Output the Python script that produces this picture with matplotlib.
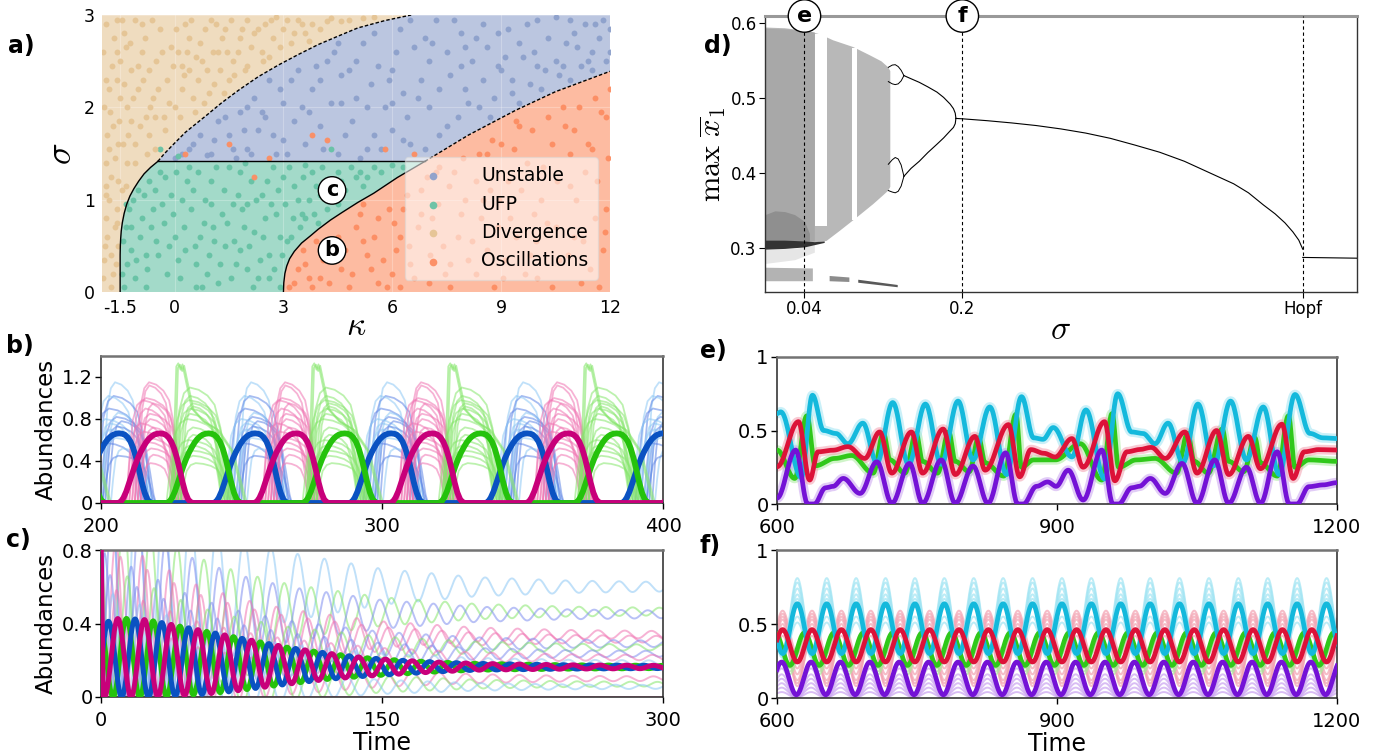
import numpy as np
import matplotlib
matplotlib.use("Agg")
import matplotlib.pyplot as plt
from matplotlib.colors import to_rgb
from matplotlib.transforms import blended_transform_factory

plt.rcParams["font.family"] = ["DejaVu Sans"]
plt.rcParams["mathtext.fontset"] = "cm"

# ---------------------------------------------------------------- panel a data
kappa_ticks = [-1.5, 0, 3, 6, 9, 12]
kappa_ticklabels = ["-1.5", "0", "3", "6", "9", "12"]
sigma_ticks = [0, 1, 2, 3]

left_kappa = [-1.5, -1.5, -1.495, -1.485, -1.47, -1.44, -1.39, -1.32, -1.23, -1.12, -0.99, -0.84, -0.66, -0.46]
left_sigma = [0.0, 0.40, 0.50, 0.58, 0.66, 0.75, 0.85, 0.95, 1.04, 1.12, 1.20, 1.28, 1.35, 1.415]
upper_kappa = [-0.46, -0.30, -0.08, 0.30, 0.90, 1.30, 1.78, 2.30, 2.87, 3.40, 3.96, 4.50, 5.05, 5.80, 6.52]
upper_sigma = [1.415, 1.49, 1.58, 1.73, 1.92, 2.05, 2.19, 2.33, 2.46, 2.57, 2.68, 2.77, 2.86, 2.94, 3.0]
osc_kappa = [3.0, 3.01, 3.04, 3.09, 3.17, 3.30, 3.50, 3.75, 3.96, 4.30, 4.61, 5.05, 5.49, 6.14, 6.90, 8.10, 9.41, 10.5, 12.0]
osc_sigma = [0.0, 0.10, 0.20, 0.28, 0.36, 0.44, 0.53, 0.61, 0.68, 0.78, 0.86, 0.97, 1.07, 1.24, 1.415, 1.70, 1.97, 2.17, 2.39]
ufp_sigma_top = 1.415

div_pts = [(-1.9, 2.9), (-1.6, 2.6), (-1.8, 2.2), (-1.7, 1.8), (-1.9, 1.4), (-1.8, 1.0), (-1.85, 0.6),
           (-1.7, 0.2), (-1.95, 0.35), (-1.6, 0.9), (-1.75, 1.25), (-1.55, 1.6), (-1.3, 2.0), (-1.2, 2.4),
           (-1.4, 2.8), (-1.1, 2.95), (-0.9, 2.6), (-1.0, 2.2), (-0.8, 1.9), (-1.1, 1.6), (-0.6, 2.1),
           (-0.5, 2.5), (-0.4, 2.85), (-0.2, 2.3), (0.0, 2.0), (0.1, 2.6), (0.3, 2.9), (0.4, 2.4),
           (0.5, 2.1), (0.7, 2.7), (0.9, 2.4), (1.0, 2.95), (1.2, 2.6), (1.4, 2.85), (1.6, 2.5),
           (1.8, 2.75), (2.0, 2.95), (2.2, 2.8), (2.5, 2.9), (2.8, 2.98), (3.0, 2.85), (3.4, 2.95),
           (3.8, 2.9), (4.3, 2.97), (4.6, 2.93), (-0.7, 1.7), (-0.3, 1.9), (0.2, 2.2), (-1.5, 2.1),
           (-1.65, 1.45), (-1.9, 0.8), (-1.75, 0.05), (-1.55, 0.5), (-1.45, 1.1), (-1.3, 1.4),
           (-0.9, 2.9), (0.6, 2.55), (1.1, 2.25), (1.5, 2.3), (2.4, 2.6), (2.6, 2.55), (3.2, 2.7),
           (-1.95, 2.0), (-1.6, 2.95), (-0.1, 2.65), (0.8, 2.05), (2.0, 2.45), (3.6, 2.8),
           (-1.85, 1.7), (-1.2, 1.85), (-1.65, 0.7), (-1.9, 1.15), (-1.6, 2.3), (-0.7, 2.4),
           (0.2, 2.45), (1.3, 2.75), (2.7, 2.75), (-1.35, 2.65), (-0.55, 1.55), (0.4, 2.75),
           (-1.98, 0.15), (-1.92, 0.5), (-1.88, 1.05), (-1.82, 1.55), (-1.78, 1.95), (-1.72, 2.45),
           (-1.68, 2.75), (-1.62, 0.3), (-1.58, 0.75), (-1.56, 1.2), (-1.52, 1.85), (-1.5, 2.5),
           (-1.45, 2.95), (-1.42, 1.6), (-1.38, 2.25), (-1.33, 1.15), (-1.27, 1.7), (-1.22, 2.7),
           (-1.15, 2.1), (-1.08, 1.4), (-1.02, 2.45), (-0.95, 1.8), (-0.88, 2.3), (-0.82, 2.75),
           (-0.75, 1.5), (-0.68, 2.0), (-0.62, 2.95), (-0.55, 1.9), (-0.45, 2.2), (-0.35, 2.6),
           (-0.25, 1.75), (-0.15, 2.05), (-0.05, 2.45), (0.05, 2.85), (0.15, 1.9), (0.25, 2.35),
           (0.35, 2.6), (0.45, 2.95), (0.55, 1.95), (0.65, 2.3), (0.75, 2.5), (0.85, 2.85),
           (0.95, 2.15), (1.05, 2.6), (1.15, 2.9), (1.25, 2.4), (1.35, 2.15), (1.45, 2.6),
           (1.55, 2.95), (1.65, 2.35), (1.75, 2.6), (1.85, 2.85), (1.95, 2.4), (2.1, 2.65),
           (2.3, 2.85), (2.45, 2.5), (2.65, 2.95), (2.9, 2.65), (3.1, 2.95), (3.3, 2.8), (3.5, 2.9),
           (3.7, 2.72), (4.0, 2.85), (4.2, 2.93), (4.8, 2.95), (5.2, 2.97), (5.5, 2.98),
           (-1.97, 2.6), (-1.9, 2.3), (-1.76, 0.4)]
uns_pts = [(0.5, 1.6), (1.0, 1.5), (1.5, 1.7), (2.0, 1.55), (2.5, 1.9), (3.0, 1.65), (3.5, 2.0),
           (4.0, 1.8), (4.5, 1.5), (5.0, 2.1), (5.5, 1.7), (6.0, 2.4), (6.5, 1.6), (7.0, 2.0),
           (7.5, 2.6), (8.0, 2.2), (8.5, 2.9), (9.0, 2.4), (9.5, 2.7), (10.0, 2.95), (10.5, 2.5),
           (11.0, 2.8), (11.5, 2.6), (11.8, 2.95), (1.2, 1.85), (2.2, 2.1), (3.2, 2.3), (4.2, 2.5),
           (5.2, 2.7), (6.2, 2.85), (7.2, 2.95), (3.8, 2.2), (4.8, 2.4), (5.8, 2.0), (6.8, 2.3),
           (7.8, 1.9), (8.8, 2.1), (2.8, 1.5), (3.6, 1.6), (5.3, 1.55), (6.0, 1.75), (7.3, 1.7),
           (8.2, 2.5), (9.2, 2.85), (10.2, 2.4), (11.2, 2.45), (11.6, 2.9), (10.8, 2.7), (9.8, 2.25),
           (8.6, 2.65), (7.6, 2.35), (6.6, 2.65), (5.6, 2.45), (4.6, 2.05), (3.3, 1.85), (1.8, 1.95),
           (0.2, 1.5), (4.4, 2.6), (6.9, 2.75), (7.9, 2.8), (9.6, 2.55), (10.6, 2.35), (11.4, 2.5),
           (12.0, 2.6), (2.6, 2.3), (1.6, 1.55), (4.9, 1.85), (8.4, 2.0), (9.3, 2.15), (10.9, 2.95),
           (6.3, 2.15), (7.0, 2.5), (5.4, 2.25), (3.9, 2.45), (2.3, 1.75), (6.4, 1.9), (8.9, 2.45),
           (0.0, 1.45), (0.4, 1.55), (0.7, 1.7), (0.9, 1.48), (1.1, 1.65), (1.4, 1.9), (1.7, 1.45),
           (1.9, 1.75), (2.1, 1.5), (2.4, 1.95), (2.7, 1.7), (2.9, 2.2), (3.1, 1.5), (3.4, 2.4),
           (3.7, 1.95), (4.0, 2.3), (4.1, 1.55), (4.3, 2.05), (4.5, 2.7), (4.7, 1.7), (5.0, 2.5),
           (5.1, 1.45), (5.3, 2.0), (5.5, 2.8), (5.7, 1.55), (5.9, 2.3), (6.1, 2.6), (6.3, 1.65),
           (6.5, 2.95), (6.7, 2.1), (6.9, 1.55), (7.1, 2.7), (7.3, 2.2), (7.5, 1.8), (7.7, 2.95),
           (7.9, 2.45), (8.1, 2.05), (8.3, 2.75), (8.5, 2.3), (8.7, 1.9), (8.9, 2.8), (9.1, 2.55),
           (9.3, 2.3), (9.5, 2.05), (9.7, 2.9), (9.9, 2.6), (10.1, 2.2), (10.3, 2.75), (10.5, 2.98),
           (10.7, 2.45), (10.9, 2.3), (11.1, 2.65), (11.3, 2.9), (11.5, 2.4), (11.7, 2.75),
           (11.9, 2.5), (12.0, 2.85), (3.0, 2.05), (2.0, 2.0), (4.6, 2.35), (6.0, 2.05), (8.0, 2.65),
           (10.0, 2.45)]
ufp_pts = [(-1.3, 0.3), (-1.2, 0.7), (-1.0, 1.1), (-0.8, 0.4), (-0.6, 0.9), (-0.4, 1.3), (-0.2, 0.2),
           (0.0, 0.6), (0.2, 1.0), (0.4, 1.35), (0.6, 0.3), (0.8, 0.75), (1.0, 1.2), (1.2, 0.1),
           (1.4, 0.5), (1.6, 0.95), (1.8, 1.3), (2.0, 0.25), (2.2, 0.65), (2.4, 1.05), (2.6, 0.4),
           (2.8, 0.85), (3.0, 1.25), (3.2, 0.6), (3.4, 1.0), (3.6, 0.8), (3.8, 1.3), (4.0, 1.05),
           (4.5, 1.3), (5.0, 1.25), (5.5, 1.35), (-1.4, 0.05), (-1.1, 0.15), (-0.9, 0.8), (-0.5, 0.55),
           (-0.1, 1.05), (0.3, 0.45), (0.5, 1.1), (0.9, 0.2), (1.1, 0.55), (1.3, 0.85), (1.5, 1.35),
           (1.7, 0.3), (1.9, 0.7), (2.1, 1.2), (2.3, 0.15), (2.5, 0.8), (2.7, 1.35), (2.9, 0.05),
           (3.1, 0.55), (3.3, 1.15), (3.5, 0.85), (3.9, 1.15), (4.2, 0.9), (4.7, 1.1), (6.0, 1.38),
           (-0.7, 1.2), (-1.2, 0.45), (0.1, 0.35), (0.7, 0.6), (2.0, 0.95), (2.6, 0.15), (-0.3, 0.75),
           (1.0, 0.95), (3.6, 1.38), (-0.4, 1.55), (0.1, 1.47), (4.3, 1.55), (-1.35, 0.95), (0.6, 0.05),
           (1.8, 0.45), (2.9, 0.6), (5.2, 1.15), (-0.8, 0.05),
           (-1.45, 0.2), (-1.42, 0.55), (-1.35, 0.7), (-1.25, 0.9), (-1.15, 1.0), (-1.05, 0.35),
           (-0.95, 0.6), (-0.85, 1.05), (-0.75, 0.25), (-0.65, 0.7), (-0.55, 1.1), (-0.45, 0.4),
           (-0.35, 0.95), (-0.25, 1.25), (-0.15, 0.5), (-0.05, 0.85), (0.05, 1.3), (0.15, 0.15),
           (0.25, 0.7), (0.35, 1.2), (0.45, 0.9), (0.55, 0.5), (0.65, 1.3), (0.75, 0.05), (0.85, 1.0),
           (0.95, 0.4), (1.05, 0.7), (1.15, 1.35), (1.25, 0.3), (1.35, 1.1), (1.45, 0.75), (1.55, 0.15),
           (1.65, 0.55), (1.75, 1.05), (1.85, 0.9), (1.95, 1.4), (2.05, 0.5), (2.15, 0.05), (2.25, 1.0),
           (2.35, 0.35), (2.45, 0.6), (2.55, 1.2), (2.65, 0.95), (2.75, 0.25), (2.85, 1.1), (2.95, 0.4),
           (3.05, 0.95), (3.15, 1.35), (3.25, 0.8), (3.45, 0.7), (3.55, 1.25), (3.7, 1.0), (3.85, 0.85),
           (4.05, 1.35), (4.15, 1.2), (4.35, 1.0), (4.6, 1.2), (4.85, 1.35), (5.1, 1.3), (5.3, 1.25),
           (5.7, 1.3), (6.3, 1.35), (3.95, 0.75), (4.5, 0.95)]
osc_pts = [(3.3, 0.1), (3.6, 0.3), (4.0, 0.15), (4.3, 0.5), (4.6, 0.25), (5.0, 0.7), (5.3, 0.4),
           (5.6, 0.1), (5.9, 0.9), (6.2, 0.6), (6.5, 0.3), (6.8, 1.1), (7.1, 0.8), (7.4, 0.5),
           (7.7, 1.3), (8.0, 1.0), (8.3, 0.2), (8.6, 1.5), (8.9, 0.7), (9.2, 1.2), (9.5, 1.8),
           (9.8, 0.4), (10.1, 1.0), (10.4, 1.6), (10.7, 2.0), (11.0, 0.6), (11.3, 1.3), (11.6, 2.1),
           (11.9, 0.9), (4.8, 0.05), (5.2, 0.95), (6.0, 0.2), (6.4, 1.05), (7.0, 0.1), (7.6, 0.3),
           (8.2, 0.55), (8.8, 0.05), (9.4, 0.6), (10.0, 0.15), (10.6, 0.35), (11.2, 0.1), (11.8, 0.45),
           (7.3, 1.35), (8.4, 1.5), (9.0, 1.6), (9.7, 1.4), (10.3, 1.9), (11.0, 1.75), (11.5, 1.55),
           (12.0, 2.2), (6.7, 0.7), (7.9, 0.85), (8.7, 1.1), (9.9, 0.85), (10.9, 1.15), (11.6, 0.8),
           (3.8, 0.05), (4.4, 0.35), (5.5, 0.6), (6.1, 0.45), (11.9, 1.9), (10.5, 0.7), (9.1, 0.35),
           (7.2, 1.3), (3.8, 1.7), (2.6, 1.45), (5.8, 1.55), (1.5, 1.6), (4.2, 1.65), (0.3, 1.5),
           (2.2, 1.25), (6.6, 1.5),
           (3.15, 0.05), (3.4, 0.25), (3.55, 0.45), (3.7, 0.15), (3.9, 0.55), (4.1, 0.35), (4.25, 0.1),
           (4.5, 0.6), (4.7, 0.45), (4.9, 0.2), (5.1, 0.85), (5.2, 0.55), (5.4, 0.25), (5.6, 0.8),
           (5.75, 0.35), (5.85, 0.05), (6.05, 0.75), (6.3, 0.9), (6.45, 0.5), (6.6, 0.15), (6.8, 0.85),
           (6.95, 1.25), (7.05, 0.4), (7.25, 0.95), (7.45, 0.2), (7.55, 1.15), (7.8, 0.6), (7.95, 1.45),
           (8.1, 0.35), (8.3, 1.2), (8.45, 0.8), (8.6, 0.45), (8.75, 1.65), (8.95, 1.0), (9.05, 0.15),
           (9.25, 0.8), (9.35, 1.55), (9.55, 1.1), (9.65, 0.2), (9.85, 1.75), (9.95, 0.55), (10.15, 1.35),
           (10.25, 0.75), (10.4, 0.05), (10.55, 1.2), (10.75, 1.8), (10.85, 0.4), (11.05, 1.0),
           (11.15, 2.0), (11.25, 0.55), (11.4, 1.6), (11.45, 0.25), (11.65, 1.2), (11.75, 1.95),
           (11.85, 0.65), (11.95, 1.45), (11.7, 0.05), (10.9, 1.5), (9.4, 1.85), (8.5, 1.0),
           (7.6, 0.05), (6.2, 0.05)]

# ---------------------------------------------------------------- panel d data
d_xticks = [0.04, 0.2, 0.545]
d_xticklabels = ["0.04", "0.2", "Hopf"]
d_yticks = [0.3, 0.4, 0.5, 0.6]
p1_sigma = [0.1935, 0.196, 0.2, 0.225, 0.25, 0.275, 0.30, 0.325, 0.35, 0.375, 0.40, 0.425, 0.45,
            0.475, 0.49, 0.505, 0.517, 0.527, 0.535, 0.541, 0.545]
p1_max = [0.473, 0.4728, 0.4725, 0.4700, 0.4670, 0.4635, 0.4590, 0.4535, 0.4465, 0.4375, 0.4280,
          0.4160, 0.4010, 0.3860, 0.3740, 0.3580, 0.3460, 0.3340, 0.3220, 0.3110, 0.2990]
post_hopf_sigma = [0.545, 0.600]
post_hopf_max = [0.288, 0.287]
p2_sigma = [0.1408, 0.148, 0.1564, 0.165, 0.1743, 0.181, 0.1877, 0.191, 0.1928, 0.1935]
p2_upper = [0.530, 0.5258, 0.521, 0.5150, 0.508, 0.501, 0.492, 0.486, 0.480, 0.473]
p2_lower = [0.396, 0.4065, 0.416, 0.4275, 0.4387, 0.447, 0.4565, 0.461, 0.466, 0.473]
p4_sigma = [0.125, 0.129, 0.132, 0.135, 0.138, 0.1408]
p4_up_a = [0.541, 0.544, 0.5445, 0.542, 0.537, 0.530]
p4_up_b = [0.522, 0.519, 0.518, 0.519, 0.523, 0.530]
p4_lo_a = [0.412, 0.418, 0.421, 0.419, 0.411, 0.396]
p4_lo_b = [0.377, 0.375, 0.374, 0.376, 0.383, 0.396]
chaos_hi_sigma = [0.0, 0.02, 0.04, 0.0557, 0.069, 0.0894, 0.1063, 0.1180, 0.1249, 0.127]
chaos_hi = [0.594, 0.593, 0.590, 0.585, 0.577, 0.568, 0.557, 0.549, 0.541, 0.536]
chaos_lo_sigma = [0.0, 0.02, 0.04, 0.0624, 0.076, 0.0928, 0.1097, 0.120, 0.125, 0.127]
chaos_lo = [0.3037, 0.305, 0.306, 0.310, 0.3236, 0.341, 0.359, 0.371, 0.377, 0.382]
windows_sigma = [(0.0506, 0.0625), (0.0878, 0.0935)]
windows_max = [(0.33, 0.586), (0.338, 0.567)]

# ---------------------------------------------------------------- panel b data
b_period = 48.4
b_peak = {"blue": 206.5, "magenta": 221.0, "green": 238.3}
b_thick_rel = [-15, -14, -13, -12, -11, -10, -9, -8, -7, -6, -5, -4, -3, -2, -1, 0,
               1, 2, 3, 4, 5, 6, 7, 8, 9, 10, 11, 12]
b_thick_val = [0.0, 0.01, 0.05, 0.11, 0.19, 0.27, 0.35, 0.42, 0.48, 0.53, 0.575, 0.61, 0.635, 0.652,
               0.66, 0.663, 0.66, 0.65, 0.625, 0.585, 0.52, 0.43, 0.32, 0.20, 0.10, 0.035, 0.005, 0.0]
b_thin_u = [0, 0.06, 0.12, 0.2, 0.3, 0.45, 0.6, 0.72, 0.82, 0.9, 0.96, 1.0]
b_thin_f = [0, 0.45, 0.8, 0.95, 1.0, 0.98, 0.93, 0.85, 0.65, 0.35, 0.1, 0]
b_blue_h = [1.15, 1.02, 1.02, 0.90, 0.86, 0.82, 0.80, 0.78, 0.76, 0.73, 0.70, 0.67, 0.62, 0.57, 0.52, 0.45]
b_blue_on = [-6, -8, -9, -10, -5, -7, -11, -4, -8, -6, -9, -5, -7, -10, -3, -6]
b_blue_off = [9, 12, 8, 11, 10, 13, 9, 12, 7, 11, 10, 8, 12, 9, 11, 13]
b_pink_h = [1.15, 1.12, 1.0, 0.98, 0.95, 0.9, 0.85, 0.8, 0.76, 0.72, 0.68, 0.62, 0.58, 0.52, 0.46, 0.38]
b_pink_on = [-9, -8, -11, -12, -7, -10, -9, -8, -12, -7, -11, -10, -9, -8, -6, -7]
b_pink_off = [8, 6, 9, 7, 8, 6, 9, 7, 5, 8, 6, 9, 7, 8, 6, 5]
b_green_h = [1.10, 1.02, 0.98, 0.95, 0.92, 0.90, 0.85, 0.80, 0.72, 0.65, 0.60, 0.55, 0.50, 0.45, 0.38]
b_green_on = [-13, -12, -14, -11, -10, -13, -12, -15, -11, -10, -14, -12, -13, -11, -10]
b_green_off = [8, 6, 9, 7, 5, 8, 6, 9, 7, 5, 8, 6, 9, 7, 8]
b_spike_rel = [-13.5, -12.3, -11.5, -10.8, -10.0, -9.3, -8.0, -6.0, -2.0, 3.0, 8.0, 11.0, 13.0]
b_spike_val = [0.0, 0.6, 1.30, 1.33, 1.27, 1.32, 1.15, 0.9, 0.78, 0.7, 0.5, 0.2, 0.0]

# ---------------------------------------------------------------- panel c data
c_period = 14.3
c_phase = {"magenta": 8.9, "green": 13.6, "blue": 18.2}
c_env_t = [0, 10, 25, 40, 55, 70, 85, 100, 120, 140, 160, 180, 200, 250, 300]
c_env_hi = [0.40, 0.43, 0.42, 0.39, 0.36, 0.33, 0.30, 0.27, 0.24, 0.215, 0.20, 0.19, 0.183, 0.175, 0.172]
c_env_lo = [0.0, 0.0, 0.0, 0.005, 0.015, 0.03, 0.05, 0.07, 0.095, 0.112, 0.125, 0.137, 0.146, 0.152, 0.155]
c_magenta_start = 0.9
c_decay_t = [0, 25, 50, 75, 100, 150, 200, 250, 300]
c_decay_frac = [1.0, 0.75, 0.5, 0.35, 0.25, 0.13, 0.07, 0.045, 0.035]
c_thin_level = [0.60, 0.465, 0.45, 0.34, 0.315, 0.29, 0.27, 0.235, 0.215, 0.185, 0.10, 0.07, 0.055, 0.0]
c_thin_amp = [0.75, 0.6, 0.6, 0.55, 0.5, 0.5, 0.45, 0.45, 0.4, 0.4, 0.35, 0.35, 0.3, 0.0]
c_thin_group = ["sky", "green", "violet", "pink", "pink", "violet", "green", "violet", "pink",
                "sky", "pink", "green", "sky", "pink"]
c_thin_shift = [1.0, -1.5, 2.0, -1.0, 1.5, -2.0, 0.5, 1.0, -0.5, 2.5, 0.0, -2.5, -1.0, 0.0]

# ---------------------------------------------------------------- panel e data
e_cyan_t = [600, 604, 626, 638, 650, 663, 676, 692, 707, 724, 741, 759, 776, 794, 810, 828, 846,
            862, 875, 885, 896, 916, 931, 951, 965, 980, 992, 1005, 1019, 1035, 1051, 1068, 1086,
            1103, 1121, 1138, 1155, 1171, 1185, 1200]
e_cyan_y = [0.615, 0.627, 0.18, 0.74, 0.50, 0.48, 0.41, 0.55, 0.28, 0.69, 0.27, 0.68, 0.27, 0.70,
            0.30, 0.66, 0.20, 0.73, 0.45, 0.44, 0.52, 0.32, 0.64, 0.17, 0.75, 0.49, 0.48, 0.41,
            0.55, 0.28, 0.68, 0.26, 0.70, 0.30, 0.66, 0.20, 0.745, 0.48, 0.45, 0.445]
e_red_t = [600, 623, 635, 644, 660, 676, 694, 710, 723, 744, 756, 778, 791, 812, 823, 848, 860,
           872, 886, 898, 916, 928, 951, 962, 975, 988, 1001, 1016, 1037, 1050, 1071, 1084, 1105,
           1118, 1141, 1153, 1165, 1180, 1200]
e_red_y = [0.253, 0.56, 0.163, 0.355, 0.366, 0.39, 0.31, 0.49, 0.21, 0.49, 0.21, 0.51, 0.20, 0.46,
           0.23, 0.54, 0.185, 0.37, 0.345, 0.32, 0.445, 0.25, 0.56, 0.158, 0.355, 0.37, 0.385,
           0.31, 0.49, 0.21, 0.50, 0.20, 0.46, 0.24, 0.543, 0.174, 0.355, 0.37, 0.367]
e_green_t = [600, 619, 632, 641, 662, 680, 703, 714, 721, 737, 749, 756, 772, 784, 791, 806, 816,
             823, 843, 856, 862, 875, 898, 925, 948, 959, 966, 985, 1005, 1028, 1040, 1047, 1062,
             1077, 1084, 1100, 1112, 1118, 1136, 1148, 1155, 1170, 1200]
e_green_y = [0.367, 0.174, 0.60, 0.26, 0.31, 0.33, 0.21, 0.48, 0.30, 0.21, 0.48, 0.29, 0.21, 0.49,
             0.29, 0.22, 0.45, 0.28, 0.19, 0.61, 0.25, 0.30, 0.30, 0.41, 0.163, 0.615, 0.25, 0.30,
             0.31, 0.21, 0.48, 0.29, 0.21, 0.51, 0.29, 0.22, 0.45, 0.28, 0.19, 0.60, 0.25, 0.30, 0.29]
e_purple_t = [600, 620, 633, 640, 652, 660, 671, 689, 707, 723, 742, 756, 776, 791, 810, 826, 845,
              858, 864, 878, 890, 899, 912, 928, 948, 960, 966, 980, 988, 1000, 1016, 1034, 1050,
              1069, 1084, 1103, 1118, 1136, 1149, 1157, 1170, 1185, 1200]
e_purple_y = [0.04, 0.367, 0.0, 0.0, 0.11, 0.12, 0.174, 0.072, 0.287, 0.005, 0.276, 0.005, 0.30,
              0.005, 0.258, 0.005, 0.348, 0.0, 0.0, 0.12, 0.15, 0.12, 0.23, 0.027, 0.367, 0.0, 0.0,
              0.11, 0.12, 0.174, 0.072, 0.276, 0.005, 0.30, 0.005, 0.25, 0.005, 0.355, 0.0, 0.0,
              0.118, 0.13, 0.145]

# ---------------------------------------------------------------- panel f data
f_period = 31.5
f_peak = {"cyan": 621.8, "red": 606.0, "green": 598.0, "purple": 605.0}
f_thick_hi = {"cyan": 0.637, "red": 0.462, "green": 0.44, "purple": 0.243}
f_thick_lo = {"cyan": 0.30, "red": 0.243, "green": 0.22, "purple": 0.022}
f_thin_cyan = [(0.81, 0.33), (0.78, 0.33), (0.74, 0.32), (0.70, 0.31), (0.67, 0.30), (0.55, 0.28), (0.51, 0.27)]
f_thin_red = [(0.59, 0.30), (0.57, 0.25), (0.55, 0.20), (0.53, 0.16), (0.50, 0.12), (0.47, 0.08), (0.42, 0.10)]
f_thin_green = [(0.46, 0.20), (0.42, 0.18), (0.40, 0.16)]
f_thin_purple = [(0.20, 0.01), (0.16, 0.01), (0.13, 0.01), (0.10, 0.0), (0.07, 0.0), (0.04, 0.0)]

# ---------------------------------------------------------------- colours
SET2 = {"Unstable": "#8da0cb", "UFP": "#66c2a5", "Divergence": "#e5c494", "Oscillations": "#fc8d62"}
REGION_ALPHA = 0.6
B_THICK = {"blue": "#0a52c2", "magenta": "#c8007a", "green": "#25c20c"}
B_THIN = {"sky": "#8dc8f5", "blue": "#5f86e6", "pink": "#f074b2", "green": "#86e66c", "violet": "#7f8ef0"}
E_COL = {"cyan": "#14b9dc", "red": "#dc1238", "green": "#30c81a", "purple": "#7412d6"}
E_LIGHT = {"cyan": "#9fe4f3", "red": "#f3a0b0", "green": "#a8eb9c", "purple": "#c9a2f0"}


def tint(c, a):
    r = np.array(to_rgb(c))
    return tuple(a * r + (1 - a) * np.ones(3))


W, H = 1381, 756
fig = plt.figure(figsize=(W / 100, H / 100), dpi=100)


def axes_px(l, t, r, b):
    return fig.add_axes([l / W, 1 - b / H, (r - l) / W, (b - t) / H])


def ease_through(tk, yk, n=24):
    tk = np.asarray(tk, float)
    yk = np.asarray(yk, float)
    ts, ys = [], []
    s = np.linspace(0, 1, n, endpoint=False)
    for i in range(len(tk) - 1):
        ts.append(tk[i] + s * (tk[i + 1] - tk[i]))
        ys.append(yk[i] + (yk[i + 1] - yk[i]) * (1 - np.cos(np.pi * s)) / 2)
    ts.append([tk[-1]])
    ys.append([yk[-1]])
    return np.concatenate(ts), np.concatenate(ys)


def style_ts_axes(ax):
    for side in ["left", "bottom", "right"]:
        ax.spines[side].set_color("0.15")
        ax.spines[side].set_linewidth(1.1)
    ax.spines["top"].set_color("0.45")
    ax.spines["top"].set_linewidth(1.8)
    ax.tick_params(labelsize=14, length=4, width=1)
    ax.tick_params(axis="y", pad=2)
    ax.tick_params(axis="x", pad=6)


ax_a = axes_px(102, 15, 610, 292)
ax_d = axes_px(765, 16, 1357, 292)
ax_b = axes_px(101, 356, 663, 503)
ax_c = axes_px(101, 550, 663, 697)
ax_e = axes_px(777, 357, 1337, 504)
ax_f = axes_px(777, 550, 1337, 698)

# ================================================================ panel a
ax = ax_a
ax.set_xlim(-2.0, 12.0)
ax.set_ylim(0, 3)
ax.set_facecolor(tint(SET2["Divergence"], REGION_ALPHA))
ok = np.array(osc_kappa)
os_ = np.array(osc_sigma)
above = ok >= 6.9
blue_k = np.concatenate([upper_kappa, [12, 12], ok[above][::-1]])
blue_s = np.concatenate([upper_sigma, [3, os_[-1]], os_[above][::-1]])
ax.fill(blue_k, blue_s, color=tint(SET2["Unstable"], REGION_ALPHA), lw=0, zorder=0.5)
green_k = np.concatenate([left_kappa, ok[ok <= 6.9][::-1]])
green_s = np.concatenate([left_sigma, os_[ok <= 6.9][::-1]])
ax.fill(green_k, green_s, color=tint(SET2["UFP"], REGION_ALPHA), lw=0, zorder=0.5)
ax.fill(np.concatenate([ok, [12]]), np.concatenate([os_, [0]]),
        color=tint(SET2["Oscillations"], REGION_ALPHA), lw=0, zorder=0.5)
for xv in kappa_ticks:
    ax.axvline(xv, color="white", lw=0.8, alpha=0.25, zorder=0.8)
for yv in sigma_ticks:
    ax.axhline(yv, color="white", lw=0.8, alpha=0.25, zorder=0.8)

ax.plot(left_kappa, left_sigma, color="k", lw=1.0, zorder=3)
ax.plot(upper_kappa, upper_sigma, color="k", lw=1.0, ls=(0, (2.5, 1.5)), zorder=3)
ax.plot([left_kappa[-1], 6.9], [ufp_sigma_top, ufp_sigma_top], color="k", lw=1.0, zorder=3)
ax.plot(ok[ok <= 6.9], os_[ok <= 6.9], color="k", lw=1.0, zorder=3)
ax.plot(ok[ok >= 6.9], os_[ok >= 6.9], color="k", lw=1.0, ls=(0, (2.5, 1.5)), zorder=3)

handles = []
for name, pts in [("Unstable", uns_pts), ("UFP", ufp_pts), ("Divergence", div_pts), ("Oscillations", osc_pts)]:
    arr = np.array(pts)
    h = ax.scatter(arr[:, 0], arr[:, 1], s=18, color=SET2[name], alpha=0.95, lw=0, zorder=2, label=name)
    handles.append(h)
leg = ax.legend(handles=handles, loc="lower right", fontsize=13.5, markerscale=1.3, frameon=True,
                framealpha=0.55, facecolor="white", edgecolor="0.85", handletextpad=1.6,
                borderpad=0.5, labelspacing=0.5, bbox_to_anchor=(0.995, 0.01))
leg.set_zorder(5)
for lab, (kx, sy) in {"c": (4.34, 1.10), "b": (4.34, 0.45)}.items():
    ax.text(kx, sy, lab, ha="center", va="center", fontsize=15, fontweight="bold", zorder=6,
            bbox=dict(boxstyle="circle,pad=0.18", fc="white", ec="k", lw=1.0))
ax.set_xticks(kappa_ticks)
ax.set_xticklabels(kappa_ticklabels)
ax.set_yticks(sigma_ticks)
ax.tick_params(length=0, labelsize=12.5, pad=5)
for sp in ax.spines.values():
    sp.set_visible(False)
ax.set_xlabel(r"$\kappa$", fontsize=24, labelpad=-6)
ax.set_ylabel(r"$\sigma$", fontsize=26, labelpad=4)

# ================================================================ panel d
ax = ax_d
ax.set_xlim(0, 0.6)
ax.set_ylim(0.242, 0.6093)
band_s = np.concatenate([chaos_hi_sigma, chaos_lo_sigma[::-1]])
band_v = np.concatenate([chaos_hi, chaos_lo[::-1]])
ax.fill(band_s, band_v, color="0.72", lw=0, zorder=1)
ax.fill_between([0, 0.02, 0.04, 0.05], [0.31, 0.31, 0.31, 0.31], [0.593, 0.592, 0.590, 0.588],
                color="0.66", lw=0, zorder=1.2)
ax.fill_between([0, 0.01, 0.02, 0.03, 0.04, 0.045], [0.31] * 6, [0.345, 0.35, 0.349, 0.345, 0.336, 0.32],
                color="0.56", lw=0, zorder=1.5)
ax.fill_between([0, 0.02, 0.04, 0.05, 0.06], [0.299, 0.300, 0.302, 0.305, 0.308],
                [0.311, 0.311, 0.310, 0.309, 0.310], color="0.2", lw=0, zorder=2)
ax.fill_between([0, 0.03, 0.05], [0.28, 0.285, 0.295], [0.299, 0.300, 0.305], color="0.9", lw=0, zorder=0.8)
ax.fill_between([0, 0.048], [0.257, 0.257], [0.275, 0.274], color="0.7", lw=0, zorder=1)
ax.fill_between([0.065, 0.085], [0.257, 0.256], [0.264, 0.262], color="0.55", lw=0, zorder=1)
ax.fill_between([0.094, 0.134], [0.255, 0.249], [0.259, 0.252], color="0.35", lw=0, zorder=1)
for (s0, s1), (v0, v1) in zip(windows_sigma, windows_max):
    ax.fill([s0, s1, s1, s0], [v0, v0, v1, v1], color="white", lw=0, zorder=2.5)
ax.plot(p1_sigma, p1_max, color="k", lw=0.8, zorder=3)
ax.plot(post_hopf_sigma, post_hopf_max, color="k", lw=0.8, zorder=3)
ax.plot(p2_sigma, p2_upper, color="k", lw=0.8, zorder=3)
ax.plot(p2_sigma, p2_lower, color="k", lw=0.8, zorder=3)
for arr in (p4_up_a, p4_up_b, p4_lo_a, p4_lo_b):
    ax.plot(p4_sigma, arr, color="k", lw=0.7, zorder=3)
for xv in d_xticks:
    ax.axvline(xv, color="k", lw=0.8, ls=(0, (3, 2.5)), zorder=4)
trans = blended_transform_factory(ax.transData, ax.transAxes)
for lab, xv in [("e", d_xticks[0]), ("f", d_xticks[1])]:
    ax.text(xv, 1.0, lab, transform=trans, ha="center", va="center", fontsize=16, fontweight="bold",
            zorder=6, clip_on=False,
            bbox=dict(boxstyle="circle,pad=0.28", fc="white", ec="k", lw=1.0))
ax.set_xticks(d_xticks)
ax.set_xticklabels(d_xticklabels)
ax.set_yticks(d_yticks)
ax.set_yticklabels(["0.3", "0.4", "0.5", "0.6"])
ax.tick_params(labelsize=12, length=4, pad=2)
for sp in ax.spines.values():
    sp.set_color("0.2")
    sp.set_linewidth(1.0)
ax.spines["top"].set_color("0.6")
ax.spines["top"].set_linewidth(2.2)
ax.set_xlabel(r"$\sigma$", fontsize=24, labelpad=-4)
ax.set_ylabel(r"$\max\ \overline{x}_1$", fontsize=22, labelpad=2)

# ================================================================ panel b
ax = ax_b
ks = range(-2, 6)


def hump_series(peak0, rel, val):
    ts, ys = [], []
    for k in ks:
        p = peak0 + k * b_period
        ts.extend(p + np.array(rel, float))
        ys.extend(val)
    return np.array(ts), np.array(ys)


groups = [("blue", b_blue_h, b_blue_on, b_blue_off, ["sky", "blue"]),
          ("magenta", b_pink_h, b_pink_on, b_pink_off, ["pink", "pink"]),
          ("green", b_green_h, b_green_on, b_green_off, ["green", "green"])]
for gname, hs, ons, offs, cols in groups:
    for i, (hh, on, off) in enumerate(zip(hs, ons, offs)):
        rel = on + np.array(b_thin_u) * (off - on)
        t, y = hump_series(b_peak[gname], rel, hh * np.array(b_thin_f))
        ax.plot(t, y, color=B_THIN[cols[i % 2]], lw=1.3, alpha=0.55, zorder=1)
for j in range(2):
    t, y = hump_series(b_peak["green"] + 0.6 * j, b_spike_rel, np.array(b_spike_val) * (1 - 0.01 * j))
    ax.plot(t, y, color=B_THIN["green"], lw=1.3, alpha=0.6, zorder=1)
for gname in ["blue", "green", "magenta"]:
    t, y = hump_series(b_peak[gname], b_thick_rel, b_thick_val)
    ax.plot(t, y, color=B_THICK[gname], lw=4.2, zorder=3, solid_capstyle="round")
ax.set_xlim(200, 400)
ax.set_ylim(0, 1.4)
ax.set_xticks([200, 300, 400])
ax.set_yticks([0, 0.4, 0.8, 1.2])
ax.set_yticklabels(["0", "0.4", "0.8", "1.2"])
style_ts_axes(ax)
ax.set_ylabel("Abundances", fontsize=16.5, labelpad=3)

# ================================================================ panel c
ax = ax_c
tc = np.linspace(0, 300, 4001)
decay = np.interp(tc, c_decay_t, c_decay_frac)
for lvl, amp, grp, sh in zip(c_thin_level, c_thin_amp, c_thin_group, c_thin_shift):
    ph = c_phase["magenta" if grp == "pink" else ("green" if grp == "green" else "blue")] + sh
    y = np.clip(lvl + amp * decay * np.cos(2 * np.pi * (tc - ph) / c_period), 0, None)
    ax.plot(tc, y, color=B_THIN[grp], lw=1.4, alpha=0.55, zorder=1)
hi = np.interp(tc, c_env_t, c_env_hi)
lo = np.interp(tc, c_env_t, c_env_lo)
for gname in ["green", "blue", "magenta"]:
    y = lo + (hi - lo) * (0.5 + 0.5 * np.cos(2 * np.pi * (tc - c_phase[gname]) / c_period))
    t = tc
    if gname == "magenta":
        t = np.concatenate([[0.0], tc[tc >= 1.2]])
        y = np.concatenate([[c_magenta_start], y[tc >= 1.2]])
    ax.plot(t, y, color=B_THICK[gname], lw=3.6, zorder=3)
ax.set_xlim(0, 300)
ax.set_ylim(0, 0.8)
ax.set_xticks([0, 150, 300])
ax.set_yticks([0, 0.4, 0.8])
ax.set_yticklabels(["0", "0.4", "0.8"])
style_ts_axes(ax)
ax.set_ylabel("Abundances", fontsize=16.5, labelpad=3)
ax.set_xlabel("Time", fontsize=17, labelpad=1)

# ================================================================ panel e
ax = ax_e
for name, tk, yk in [("green", e_green_t, e_green_y), ("cyan", e_cyan_t, e_cyan_y),
                     ("purple", e_purple_t, e_purple_y), ("red", e_red_t, e_red_y)]:
    t, y = ease_through(tk, yk)
    ax.plot(t, y, color=E_LIGHT[name], lw=7.0, alpha=0.55, zorder=1)
    ax.plot(t, y, color=E_COL[name], lw=3.4, zorder=3)
ax.set_xlim(600, 1200)
ax.set_ylim(0, 1)
ax.set_xticks([600, 900, 1200])
ax.set_yticks([0, 0.5, 1])
ax.set_yticklabels(["0", "0.5", "1"])
style_ts_axes(ax)

# ================================================================ panel f
ax = ax_f
tf = np.linspace(600, 1200, 4001)
for name, thin in [("purple", f_thin_purple), ("red", f_thin_red), ("green", f_thin_green), ("cyan", f_thin_cyan)]:
    for top, bot in thin:
        y = bot + (top - bot) * (0.5 + 0.5 * np.cos(2 * np.pi * (tf - f_peak[name]) / f_period))
        ax.plot(tf, y, color=E_LIGHT[name], lw=1.4, alpha=0.7, zorder=1)
for name in ["green", "cyan", "purple", "red"]:
    y = f_thick_lo[name] + (f_thick_hi[name] - f_thick_lo[name]) * (
        0.5 + 0.5 * np.cos(2 * np.pi * (tf - f_peak[name]) / f_period))
    ax.plot(tf, y, color=E_COL[name], lw=3.4, zorder=3)
ax.set_xlim(600, 1200)
ax.set_ylim(0, 1)
ax.set_xticks([600, 900, 1200])
ax.set_yticks([0, 0.5, 1])
ax.set_yticklabels(["0", "0.5", "1"])
style_ts_axes(ax)
ax.set_xlabel("Time", fontsize=17, labelpad=1)

# ---------------------------------------------------------------- panel letters
for lab, (x, y) in {"a)": (8, 46), "b)": (6, 346), "c)": (6, 540), "d)": (704, 46),
                    "e)": (700, 351), "f)": (700, 546)}.items():
    fig.text(x / W, 1 - y / H, lab, fontsize=17, fontweight="bold", ha="left", va="center")

fig.savefig("out.png", dpi=100)
